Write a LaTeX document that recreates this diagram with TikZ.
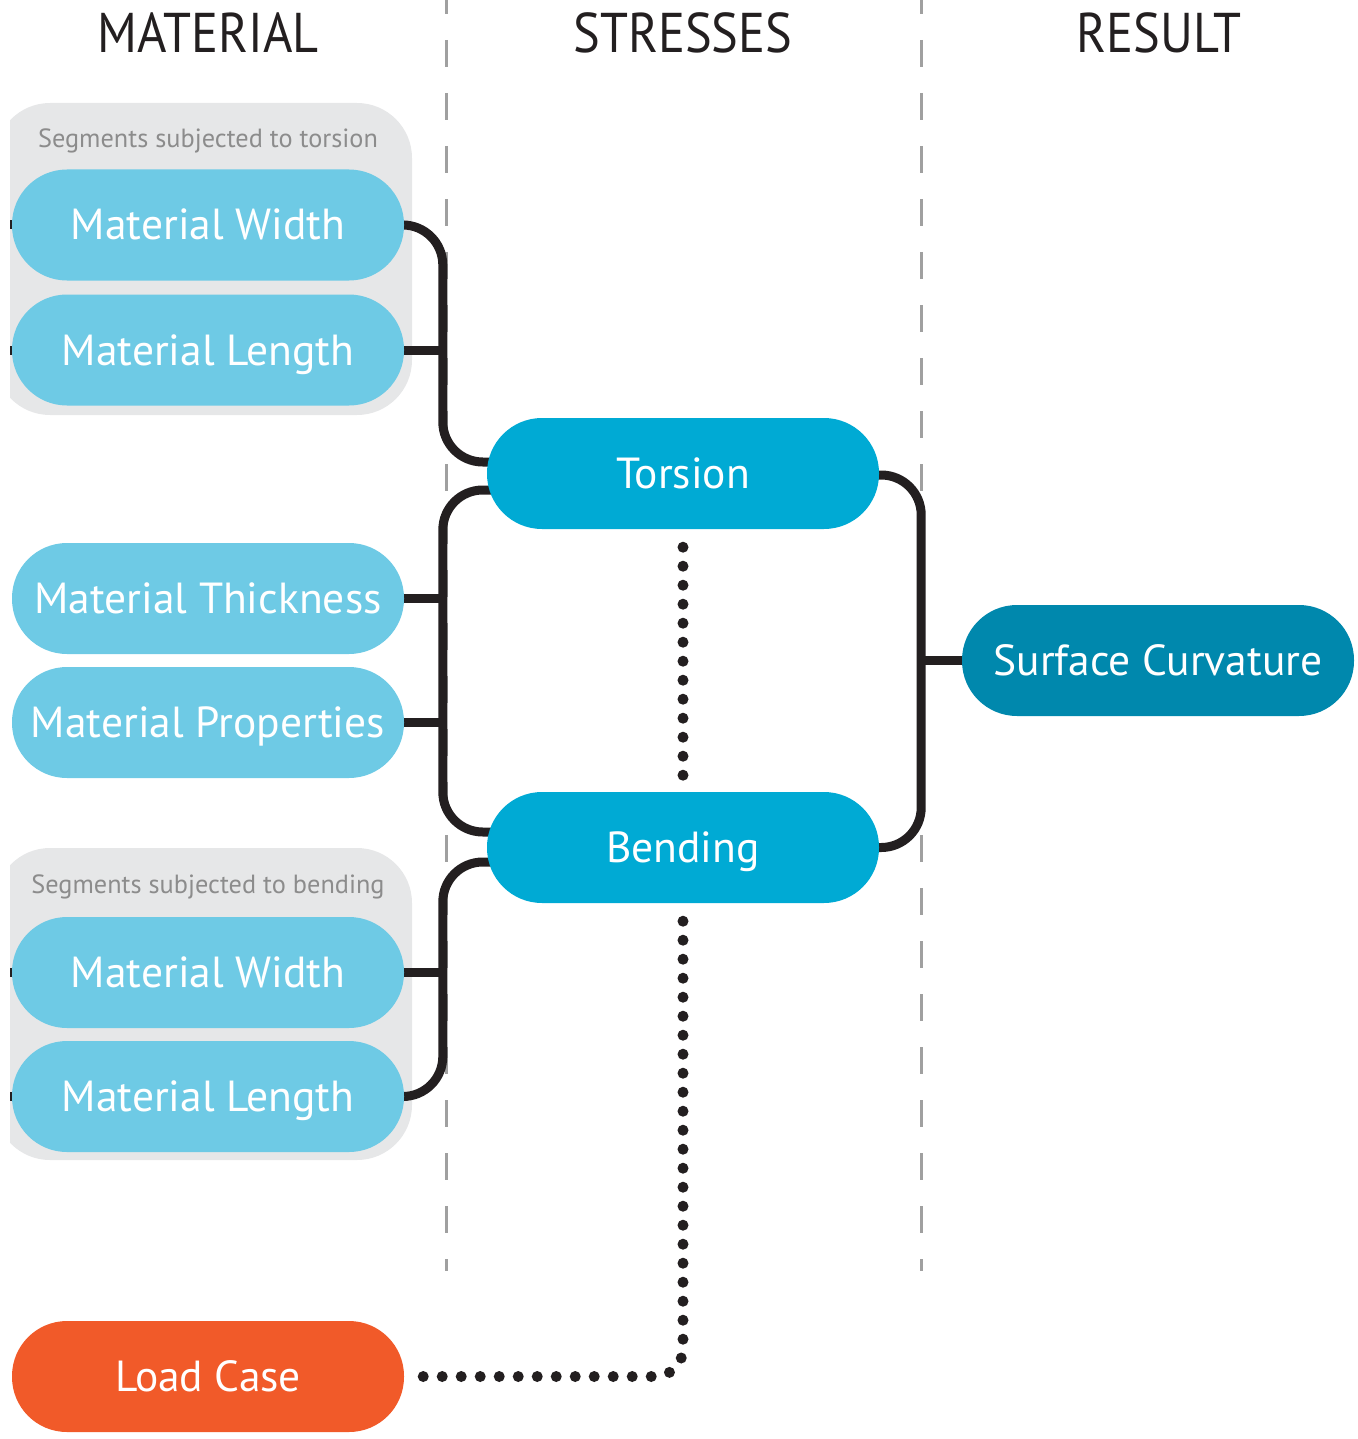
\documentclass[tikz,border=0pt]{standalone}
\usepackage{fontspec}
\setmainfont{PT Sans}
\newfontfamily\headfont[FakeStretch=0.9]{PT Sans}
\usetikzlibrary{backgrounds}
\definecolor{lightblue}{HTML}{6ECAE5}
\definecolor{midblue}{HTML}{00AAD4}
\definecolor{darkblue}{HTML}{0088AD}
\definecolor{loadorange}{HTML}{F15A29}
\definecolor{connblack}{HTML}{231F20}
\definecolor{grpgray}{HTML}{E6E7E8}
\definecolor{grptext}{HTML}{8C8C8C}
\definecolor{dashgray}{HTML}{A0A0A0}
\begin{document}
\begin{tikzpicture}[x=1pt,y=-1pt,
  pill/.style={rounded corners=55pt, minimum width=392pt, minimum height=111pt,
    inner sep=0pt, text=white, font=\fontsize{43.5}{43.5}\selectfont,
    text height=30pt, text depth=0pt},
  header/.style={inner sep=0pt, text=connblack, font=\headfont\fontsize{56}{56}\selectfont},
  grplabel/.style={inner sep=0pt, text=grptext, font=\fontsize{26.3}{26.3}\selectfont,
    text height=18pt, text depth=0pt},
  conn/.style={line width=9pt, draw=connblack, rounded corners=40pt},
  stub/.style={line width=9pt, draw=connblack},
  dots/.style={line width=11pt, draw=connblack, line cap=round, dash pattern=on 0pt off 19pt},
  dashline/.style={line width=3pt, draw=dashgray, dash pattern=on 27pt off 26pt}
]
\useasboundingbox (0,0) rectangle (1357,1439);

% headers
\node[header] (hm) at (208,33) {MATERIAL};
\node[header] (hs) at (683,33) {STRESSES};
\node[header] (hr) at (1159,33) {RESULT};

% group labels
\node[grplabel] (gl1) at (208,139) {Segments subjected to torsion};
\node[grplabel] (gl2) at (208,884) {Segments subjected to bending};

% material pills
\node[pill, fill=lightblue] (mw1) at (208,225) {Material Width};
\node[pill, fill=lightblue] (ml1) at (208,350) {Material Length};
\node[pill, fill=lightblue] (mt)  at (208,598.5) {Material Thickness};
\node[pill, fill=lightblue] (mp)  at (208,722.5) {Material Properties};
\node[pill, fill=lightblue] (mw2) at (208,972.5) {Material Width};
\node[pill, fill=lightblue] (ml2) at (208,1096.5) {Material Length};

% stresses
\node[pill, fill=midblue] (tor) at (683,473.5) {Torsion};
\node[pill, fill=midblue] (ben) at (683,847.5) {Bending};

% result
\node[pill, fill=darkblue] (sc) at (1158,660.5) {Surface Curvature};

% load case
\node[pill, fill=loadorange] (lc) at (208,1376.5) {Load Case};

\begin{scope}[on background layer]
  % dashed column separators
  \draw[dashline] (446,-13) -- (446,1271);
  \draw[dashline] (921,-13) -- (921,1271);
  % grey group boxes
  \begin{scope}
    \clip (10,0) rectangle (1357,1439);
    \fill[grpgray, rounded corners=55pt] (-5,103) rectangle (412,415);
    \fill[grpgray, rounded corners=55pt] (-5,848) rectangle (412,1160);
  \end{scope}
  % left stubs
  \draw[stub] (10,225) -- (mw1.west);
  \draw[stub] (10,350) -- (ml1.west);
  \draw[stub] (10,972.5) -- (mw2.west);
  \draw[stub] (10,1096.5) -- (ml2.west);
  % torsion bracket (top)
  \draw[conn] (mw1.east) -| ([xshift=-44pt,yshift=11.5pt]tor.west) -- ([xshift=30pt,yshift=11.5pt]tor.west);
  \draw[stub] (ml1.east) -- ++(40,0);
  % torsion-bending bracket (left)
  \draw[conn] ([xshift=30pt,yshift=-16.5pt]tor.west) -- ([xshift=-44pt,yshift=-16.5pt]tor.west) |- ([xshift=30pt,yshift=15.5pt]ben.west);
  \draw[stub] (mt.east) -- ++(40,0);
  \draw[stub] (mp.east) -- ++(40,0);
  % bending bracket (bottom)
  \draw[conn] ([xshift=30pt,yshift=-14.5pt]ben.west) -- ([xshift=-44pt,yshift=-14.5pt]ben.west) |- (ml2.east);
  \draw[stub] (mw2.east) -- ++(40,0);
  % result bracket
  \draw[conn] ([xshift=-30pt,yshift=-1.5pt]tor.east) -| ([xshift=42pt]ben.east) -- ([xshift=-30pt]ben.east);
  \draw[stub] (sc.west) -- ++(-42,0);
  % dotted links
  \draw[dots] ([yshift=-18pt]tor.south) -- ([yshift=16pt]ben.north);
  \draw[dots, rounded corners=28pt] ([yshift=-18pt]ben.south) |- ([xshift=15pt]lc.east);
\end{scope}
\end{tikzpicture}
\end{document}
